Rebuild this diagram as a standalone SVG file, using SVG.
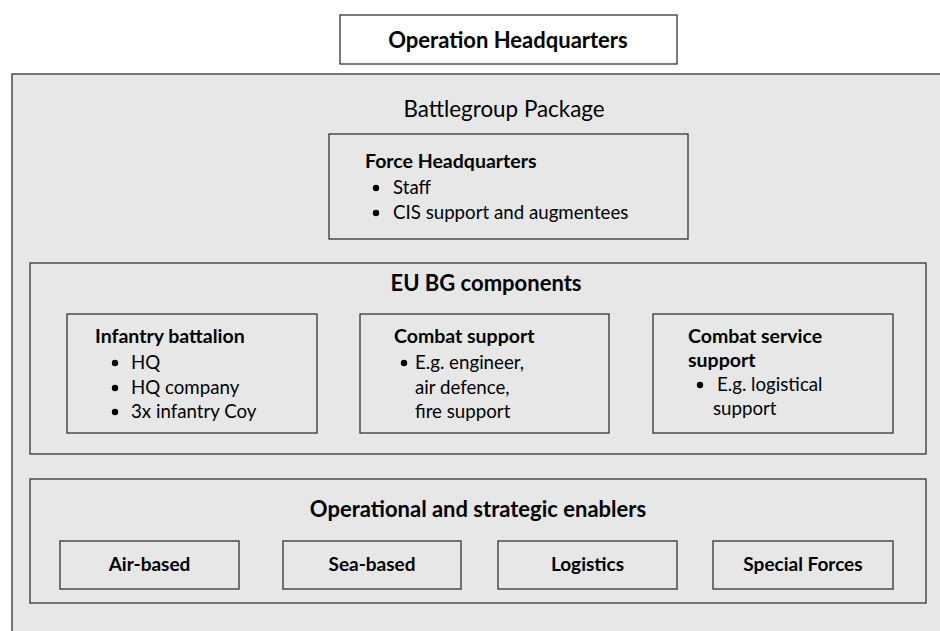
<svg xmlns="http://www.w3.org/2000/svg" width="940" height="631" viewBox="0 0 940 631">
<style>
rect{fill:#e7e7e7;stroke:#333;stroke-width:1.3}
text{font-family:Lato,"Liberation Sans",sans-serif;fill:#000}
.t{font-size:22px;font-weight:bold}
.h{font-size:19.5px;font-weight:bold}
.s{font-size:19px;font-weight:bold}
.b{font-size:18.7px}
.c{text-anchor:middle}
</style>
<rect x="0" y="0" width="940" height="631" style="fill:#fff;stroke:none"/>
<g id="operation-hq"><rect x="340" y="15" width="337" height="49" style="fill:#fff"/><text class="t c" x="508" y="48">Operation Headquarters</text></g>
<g id="battlegroup-package"><rect x="12" y="74" width="940" height="570"/><text class="c" x="504" y="117" style="font-size:22.4px">Battlegroup Package</text></g>
<g id="force-hq"><rect x="329" y="134" width="359" height="105"/>
<text class="h" x="365" y="168">Force Headquarters</text>
<circle cx="376" cy="188" r="3.2"/><text class="b" x="393" y="194">Staff</text>
<circle cx="376" cy="213" r="3.2"/><text class="b" x="393" y="219">CIS support and augmentees</text></g>
<g id="eu-bg-components"><rect x="30" y="263" width="896" height="191"/><text class="t c" x="486" y="291">EU BG components</text></g>
<g id="infantry-battalion"><rect x="67" y="314" width="250" height="119"/>
<text class="h" x="95" y="343">Infantry battalion</text>
<circle cx="115" cy="363" r="3.2"/><text class="b" x="131" y="369">HQ</text>
<circle cx="115" cy="388" r="3.2"/><text class="b" x="131" y="394">HQ company</text>
<circle cx="115" cy="412" r="3.2"/><text class="b" x="131" y="418">3x infantry Coy</text></g>
<g id="combat-support"><rect x="360" y="314" width="249" height="119"/>
<text class="h" x="394" y="343">Combat support</text>
<circle cx="404" cy="363" r="3.2"/><text class="b" x="415" y="369">E.g. engineer,</text>
<text class="b" x="415" y="394">air defence,</text>
<text class="b" x="415" y="418">fire support</text></g>
<g id="combat-service-support"><rect x="653" y="314" width="240" height="119"/>
<text class="h" x="688" y="343">Combat service</text>
<text class="h" x="688" y="367">support</text>
<circle cx="700" cy="385" r="3.2"/><text class="b" x="717" y="391">E.g. logistical</text>
<text class="b" x="713" y="415">support</text></g>
<g id="enablers"><rect x="30" y="479" width="896" height="124"/><text class="t c" x="478" y="517">Operational and strategic enablers</text></g>
<g id="air-based"><rect x="60" y="541" width="179" height="48"/><text class="s c" x="149.5" y="571">Air-based</text></g>
<g id="sea-based"><rect x="283" y="541" width="178" height="48"/><text class="s c" x="372" y="571">Sea-based</text></g>
<g id="logistics"><rect x="498" y="541" width="179" height="48"/><text class="s c" x="587.5" y="571">Logistics</text></g>
<g id="special-forces"><rect x="713" y="541" width="180" height="48"/><text class="s c" x="803" y="571">Special Forces</text></g>
<g id="connectors"/>
</svg>
